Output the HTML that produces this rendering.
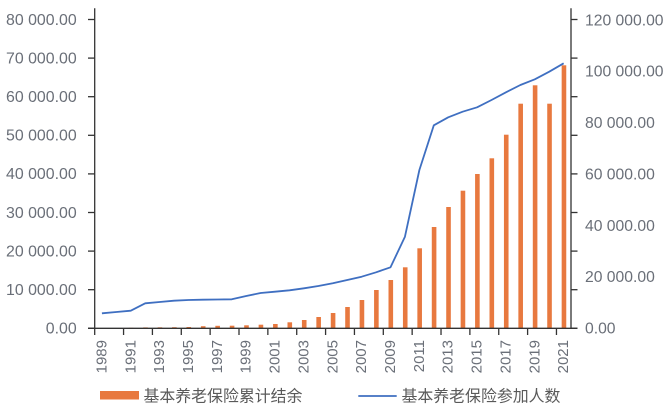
<!DOCTYPE html>
<html><head><meta charset="utf-8"><style>
html,body{margin:0;padding:0;background:#fff;}
svg{display:block;}
text{font-family:"Liberation Sans","Noto Sans CJK SC",sans-serif;fill:#6a6f78;}
</style></head><body>
<svg width="669" height="409" viewBox="0 0 669 409" xmlns="http://www.w3.org/2000/svg">
<g id="bars" fill="#e8793f"></g>
<polyline id="line" fill="none" stroke="#3f6fc1" stroke-width="1.8" stroke-linejoin="round" points=""/>
<g stroke="#333" stroke-width="1.3" fill="none">
<line x1="94.7" y1="8.3" x2="94.7" y2="328.3"/>
<line x1="571" y1="8.3" x2="571" y2="328.3"/>
<line x1="88" y1="328.3" x2="577.5" y2="328.3"/>
<g id="ticks"></g>
</g>
<g id="labels"></g>
<rect x="100" y="391" width="39" height="8.5" fill="#e8793f"/>
<text x="143.5" y="401.5" font-size="15.9" style="fill:#595959">基本养老保险累计结余</text>
<line x1="358.3" y1="396" x2="396.7" y2="396" stroke="#3f6fc1" stroke-width="1.8"/>
<text x="401.5" y="401.5" font-size="15.9" style="fill:#595959">基本养老保险参加人数</text>
<script>
(function(){
var ns="http://www.w3.org/2000/svg";
var x0=94.7,cw=14.43,base=328.3;
var tops=[328.3,328.3,327.8,327.4,327.3,327.2,327,326.2,325.8,325.7,325.3,324.7,324,322.3,320,317,313,307,300,290,280,267.3,248.3,227,207,190.7,174,158.3,134.7,103.7,85.3,103.7,65.3];
var ly=[313.3,312,310.7,303.3,302,300.7,300,299.7,299.5,299.3,296,293,291.7,290.3,288.3,286,283.3,280,276.7,272.3,267.3,236.7,170,125.3,117.3,111.7,107.3,100,92.3,85,79.3,71.7,63.3];
var bars=document.getElementById('bars');
for(var i=0;i<33;i++){
 var h=base-tops[i]; if(h<0.3) continue;
 var r=document.createElementNS(ns,'rect');
 r.setAttribute('x',(x0+cw*i+5.2).toFixed(2));
 r.setAttribute('y',tops[i]);
 r.setAttribute('width',4.6);
 r.setAttribute('height',h.toFixed(2));
 bars.appendChild(r);
}
var pts=[];
for(var i=0;i<33;i++){pts.push((x0+cw*(i+0.5)).toFixed(2)+','+ly[i]);}
document.getElementById('line').setAttribute('points',pts.join(' '));
var tk=document.getElementById('ticks');
function ln(a,b,c,d){var l=document.createElementNS(ns,'line');l.setAttribute('x1',a);l.setAttribute('y1',b);l.setAttribute('x2',c);l.setAttribute('y2',d);tk.appendChild(l);}
var lb=document.getElementById('labels');
function tx(x,y,s,anchor,fs,rot){var t=document.createElementNS(ns,'text');t.setAttribute('x',x);t.setAttribute('y',y);t.setAttribute('font-size',fs);t.setAttribute('text-anchor',anchor);t.setAttribute('dominant-baseline','central');if(rot)t.setAttribute('transform','rotate(-90 '+x+' '+y+')');t.textContent=s;lb.appendChild(t);}
var leftL=['0.00','10 000.00','20 000.00','30 000.00','40 000.00','50 000.00','60 000.00','70 000.00','80 000.00'];
for(var k=0;k<=8;k++){
 var y=base-38.6*k;
 ln(88,y,94.7,y); ln(571,y,577.5,y);
 tx(76.7,y+0.8,leftL[k],'end',15.9);
}
var rightL=['0.00','20 000.00','40 000.00','60 000.00','80 000.00','100 000.00','120 000.00'];
for(var k=0;k<=6;k++){
 var y=base-51.38*k;
 tx(585,y+0.8,rightL[k],'start',15.7);
}
for(var k=0;k<=16;k++){
 var x=x0+cw*2*k;
 ln(x,base,x,335);
 var cx=x0+cw*(2*k+0.5);
 tx(cx,340,String(1989+2*k),'end',15,true);
}
})();
</script>
</svg>
</body></html>
